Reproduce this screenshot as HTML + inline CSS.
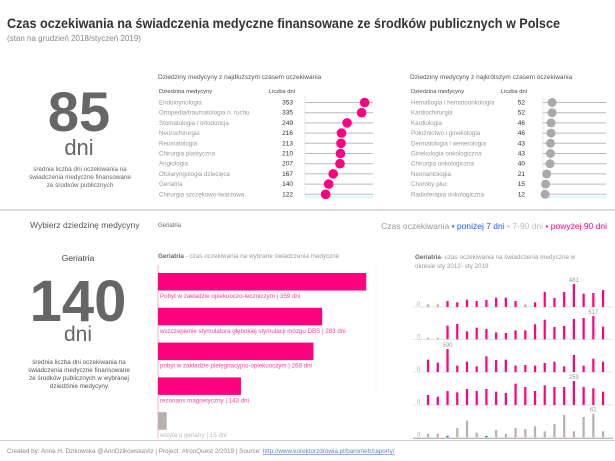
<!DOCTYPE html>
<html><head><meta charset="utf-8">
<style>
html,body{margin:0;padding:0;background:#fff;width:615px;height:461px;overflow:hidden}
svg{display:block;font-family:"Liberation Sans",sans-serif}
</style></head><body>
<svg id="s" width="615" height="461" viewBox="0 0 615 461" xmlns="http://www.w3.org/2000/svg">
<text x="7" y="28" font-size="13.5" font-weight="bold" fill="#333" textLength="553" lengthAdjust="spacingAndGlyphs">Czas oczekiwania na świadczenia medyczne finansowane ze środków publicznych w Polsce</text>
<text x="7" y="41" font-size="8" fill="#888">(stan na grudzień 2018/styczeń 2019)</text>
<text x="79" y="131" font-size="56" font-weight="bold" fill="#666" text-anchor="middle">85</text>
<text x="79" y="155" font-size="22" fill="#666" text-anchor="middle">dni</text>
<g font-size="6.3" fill="#666" text-anchor="middle">
<text x="80" y="171">średnia liczba dni oczekiwania na</text>
<text x="80" y="179">świadczenia medyczne finansowane</text>
<text x="80" y="187">ze środków publicznych</text>
</g>
<text x="158" y="79" font-size="6.5" fill="#555">Dziedziny medycyny z najdłuższym czasem oczekiwania</text>
<text x="410" y="79" font-size="6.5" fill="#555">Dziedziny medycyny z najkrótszym czasem oczekiwania</text>
<g id="topg"></g>
<rect x="0" y="209" width="615" height="2" fill="#ddd"/>
<text x="30" y="228" font-size="8.5" fill="#555">Wybierz dziedzinę medycyny</text>
<text x="158" y="227" font-size="6" fill="#666">Geriatria</text>
<text x="607" y="229" font-size="8.5" text-anchor="end"><tspan fill="#999">Czas oczekiwania </tspan><tspan fill="#1a5cff">• poniżej 7 dni </tspan><tspan fill="#bbb">• 7-90 dni </tspan><tspan fill="#ff007f">• powyżej 90 dni</tspan></text>
<text x="78" y="261" font-size="8.5" fill="#444" text-anchor="middle">Geriatria</text>
<text x="78" y="321" font-size="58" font-weight="bold" fill="#666" text-anchor="middle">140</text>
<text x="78" y="341" font-size="21" fill="#666" text-anchor="middle">dni</text>
<g font-size="6.3" fill="#555" text-anchor="middle">
<text x="79" y="364">średnia liczba dni oczekiwania na</text>
<text x="79" y="372">świadczenia medyczne finansowane</text>
<text x="79" y="380">ze środków publicznych w wybranej</text>
<text x="79" y="388">dziedzinie medycyny</text>
</g>
<text x="158" y="258" font-size="6.3" fill="#999"><tspan fill="#666" font-weight="bold">Geriatria</tspan> - czas oczekiwania na wybrane świadczenia medyczne</text>
<line x1="158" y1="265" x2="158" y2="438" stroke="#ff9acb" stroke-width="0.8"/>
<line x1="376" y1="265" x2="376" y2="390" stroke="#cff4f8" stroke-width="0.8" stroke-dasharray="2,2"/>
<g id="bars"></g>
<text x="415" y="259" font-size="6.3" fill="#999"><tspan fill="#666" font-weight="bold">Geriatria</tspan>- czas oczekiwania na świadczenia medyczne w</text>
<text x="415" y="268" font-size="6.3" fill="#999">okresie sty 2012- sty 2019</text>
<g id="ts"></g>
<rect x="0" y="440" width="615" height="1" fill="#ccc"/>
<text x="7" y="453" font-size="6.3" fill="#888">Created by: Anna H. Dzikowska @AnnDzikowskaViz | Project: #IronQuest 2/2019 | Source: <tspan fill="#5a7fd8" text-decoration="underline">http://www.korektorzdrowia.pl/barometr/raporty/</tspan></text>
</svg>
<script>
(function(){
const NS="http://www.w3.org/2000/svg";
function el(p,t,a,txt){const e=document.createElementNS(NS,t);for(const k in a)e.setAttribute(k,a[k]);if(txt!=null)e.textContent=txt;p.appendChild(e);return e;}
const tg=document.getElementById('topg');
const L=[["Endokrynologia",353],["Ortopedia/traumatologia n. ruchu",335],["Stomatologia i ortodoncja",249],["Neurochirurgia",216],["Reumatologia",213],["Chirurgia plastyczna",210],["Angiologia",207],["Otolaryngologia dziecięca",167],["Geriatria",140],["Chirurgia szczękowo-twarzowa",122]];
const S=[["Hematlogia i hematoonkologia",52],["Kardiochirurgia",52],["Kardiologia",46],["Położnictwo i ginekologia",46],["Dermatologia i wenerologia",43],["Ginekologia onkologiczna",43],["Chirurgia onkologiczna",40],["Neonantologia",21],["Choroby płuc",15],["Radioterapia onkologiczna",12]];
function panel(data,nx,numx,ax,aend,sc,col,r){
 el(tg,'text',{x:nx,y:93,'font-size':5.8,fill:'#444'},'Dziedzina medycyny');
 el(tg,'text',{x:numx+2,y:93,'font-size':5.8,fill:'#444','text-anchor':'end'},'Liczba dni');
 el(tg,'line',{x1:ax,y1:95,x2:ax,y2:196,stroke:'#ddd','stroke-width':0.6});
 el(tg,'line',{x1:ax,y1:197,x2:aend,y2:197,stroke:'#bdf0f6','stroke-width':1});
 data.forEach((d,i)=>{const y=102.5+i*10.2;
  el(tg,'text',{x:nx,y:y+2,'font-size':6.2,fill:'#999'},d[0]);
  el(tg,'text',{x:numx,y:y+2,'font-size':6.5,fill:'#333','text-anchor':'end'},d[1]);
  el(tg,'line',{x1:ax,y1:y,x2:aend,y2:y,stroke:'#bbb','stroke-width':1});
  el(tg,'circle',{cx:ax+d[1]*sc,cy:y,r:r,fill:col});
 });
}
panel(L,159,293,305,373,0.169,'#ff007f',4.8);
panel(S,411,525,543,606,0.175,'#aaa',4.5);
const bars=document.getElementById('bars');
const B=[["Pobyt w zakładzie opiekuoczo-leczniczym | 359 dni",359,'#ff007f'],["wszczepienie stymulatora głębokiej stymulacji mózgu DBS | 283 dni",283,'#ff007f'],["pobyt w zakładzie pielęgnacyjno-opiekuoczym | 268 dni",268,'#ff007f'],["rezonans magnetyczny | 143 dni",143,'#ff007f'],["wizyta u geriatry | 15 dni",15,'#b9b0ad']];
B.forEach((b,i)=>{const y=273+i*34.8;
 el(bars,'rect',{x:158,y:y,width:Math.max(b[1]*0.58,8),height:17.5,fill:b[2]});
 el(bars,'text',{x:160,y:y+25,'font-size':6.2,fill:i==4?'#bbb':'#ff3d9a'},b[0]);
});
const ts=document.getElementById('ts');
const rows=[
 {b:186,t:[178,178,168,172,164,168,165,158,158,168,178,172,141,159,141,117,146,144,135],g:[0,1,10],lab:[15,"481"]},
 {b:283,t:[280,280,242,237,259,248,252,262,264,256,256,238,224,246,243,222,219,213,245],g:[0,1],lab:[17,"517"]},
 {b:381,t:[344,353,312,362,350,364,334,345,344,362,360,362,354,350,364,330,362,341,350],g:[],lab:[2,"590"]},
 {b:480,t:[450,455,438,442,432,438,432,440,444,416,426,438,421,426,426,408,426,430,440],g:[],lab:[15,"259"]},
 {b:577,t:[566,566,569,549,527,563,569,555,566,549,552,544,559,537,510,559,516,506,559],g:'all',blue:[2,6],lab:[17,"61"]}
];
rows.forEach(r=>{const by=245+r.b/3;
 el(ts,'line',{x1:413,y1:by,x2:613,y2:by,stroke:'#ddd','stroke-width':0.8});
 el(ts,'text',{x:417,y:by-1,'font-size':6,fill:'#aaa'},'0');
 r.t.forEach((t,i)=>{const x=428+i*9.72;let h=Math.max((r.b-t)/3,1.5);
  let c='#ff007f';if(r.g==='all'||r.g.includes(i))c='#b9b0ad';if(r.blue&&r.blue.includes(i)){c='#1a5cff';h=1.5;}
  el(ts,'rect',{x:x-1,y:by-h,width:2.2,height:h,fill:c});
  if(i===r.lab[0])el(ts,'text',{x:x,y:by-h-2,'font-size':6,fill:'#999','text-anchor':'middle'},r.lab[1]);
 });
});
el(ts,'line',{x1:413,y1:438.5,x2:613,y2:438.5,stroke:'#bbb','stroke-width':1});
})();
</script>
</body></html>
